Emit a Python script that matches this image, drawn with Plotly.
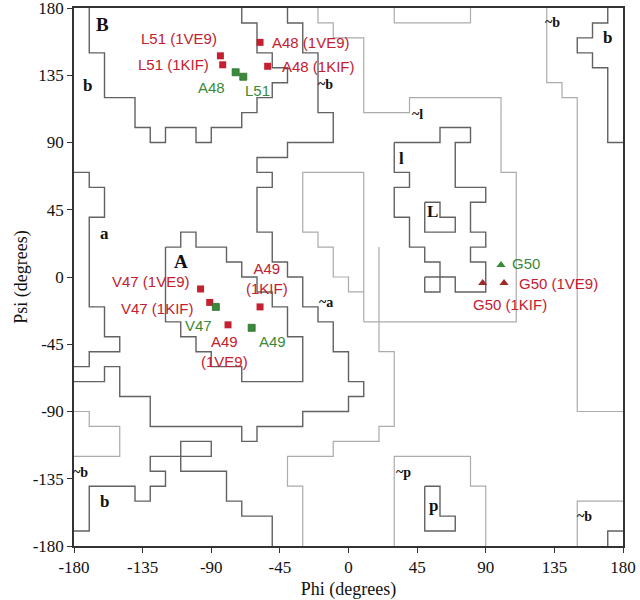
import plotly.graph_objects as go

# ---------------- data: residue (phi, psi) positions ----------------
red_names = ["A48 (1VE9)", "A48 (1KIF)", "L51 (1VE9)", "L51 (1KIF)",
             "V47 (1VE9)", "V47 (1KIF)", "A49<br>(1VE9)", "A49<br>(1KIF)"]
red_phi = [-58, -53, -84, -82.5, -97, -91, -79, -58]
red_psi = [157, 141, 148, 142, -8, -17, -32, -20]

green_names = ["A48", "L51", "V47", "A49"]
green_phi = [-74, -69, -87, -63.5]
green_psi = [137, 134, -20, -34]

gly_names = ["G50", "G50 (1VE9)", "G50 (1KIF)"]
gly_phi = [100, 102, 88]
gly_psi = [8, -4, -4]

# ---------------- data: region boundaries (phi, psi vertices) ----------------
core_B = [(-170, 180), (-170, 150), (-160, 150), (-160, 120), (-140, 120), (-140, 100),
          (-130, 100), (-130, 90), (-120, 90), (-120, 100), (-100, 100), (-100, 90),
          (-90, 90), (-90, 100), (-70, 100), (-70, 110), (-60, 110), (-60, 120),
          (-50, 120), (-50, 130), (-40, 130), (-40, 140), (-50, 140), (-50, 150),
          (-60, 150), (-60, 170), (-70, 170), (-70, 180)]
core_A = [(-120, 20), (-110, 20), (-110, 30), (-100, 30), (-100, 20), (-80, 20),
          (-80, 10), (-70, 10), (-70, 0), (-60, 0), (-60, -10), (-50, -10), (-50, -20),
          (-40, -20), (-40, -40), (-30, -40), (-30, -70), (-70, -70), (-70, -60),
          (-90, -60), (-90, -50), (-100, -50), (-100, -40), (-110, -40), (-110, -30),
          (-120, -30), (-120, 20)]
core_L = [(50, 50), (50, 30), (70, 30), (70, 40), (60, 40), (60, 50), (50, 50)]
allowed_left = [(-180, 70), (-170, 70), (-170, 60), (-160, 60), (-160, 40), (-170, 40),
                (-170, -20), (-160, -20), (-160, -40), (-150, -40), (-150, -50),
                (-170, -50), (-170, -60), (-180, -60)]
allowed_main = [(-180, -70), (-160, -70), (-160, -60), (-150, -60), (-150, -80),
                (-130, -80), (-130, -100), (-70, -100), (-70, -110), (-60, -110),
                (-60, -100), (-30, -100), (-30, -90), (0, -90), (0, -80), (10, -80),
                (10, -70), (0, -70), (0, -50), (-10, -50), (-10, -30), (-20, -30),
                (-20, -20), (-30, -20), (-30, 0), (-40, 0), (-40, 10), (-50, 10),
                (-50, 30), (-60, 30), (-60, 60), (-50, 60), (-50, 70), (-60, 70),
                (-60, 80), (-40, 80), (-40, 90), (-10, 90), (-10, 110), (-20, 110),
                (-20, 150), (-30, 150), (-30, 170), (-40, 170), (-40, 180)]
allowed_bottom = [(-180, -170), (-170, -170), (-170, -140), (-140, -140), (-140, -150),
                  (-130, -150), (-130, -140), (-120, -140), (-120, -130), (-130, -130),
                  (-130, -120), (-110, -120), (-110, -130), (-80, -130), (-80, -150),
                  (-70, -150), (-70, -160), (-50, -160), (-50, -180)]
allowed_box = [(-110, -120), (-110, -110), (-90, -110), (-90, -120), (-110, -120)]
allowed_l = [(30, 90), (60, 90), (60, 100), (80, 100), (80, 90), (70, 90), (70, 60),
             (90, 60), (90, 50), (80, 50), (80, 30), (90, 30), (90, 20), (80, 20),
             (80, 10), (90, 10), (90, -10), (70, -10), (70, 0), (60, 0), (60, 10),
             (50, 10), (50, 20), (40, 20), (40, 40), (30, 40), (30, 60), (40, 60),
             (40, 70), (30, 70), (30, 90)]
allowed_l_box = [(50, 0), (60, 0), (60, -10), (50, -10), (50, 0)]
allowed_p = [(50, -140), (60, -140), (60, -160), (70, -160), (70, -170), (50, -170), (50, -140)]
allowed_b_right = [(170, 180), (170, 170), (160, 170), (160, 160), (150, 160), (150, 150),
                   (160, 150), (160, 140), (170, 140), (170, 90), (180, 90)]
allowed_b_corner = [(170, -180), (170, -170), (180, -170)]

gen_top = [(-20, 180), (-20, 170), (-10, 170), (-10, 160), (10, 160), (10, 110),
           (40, 110), (40, 120), (100, 120), (100, 70), (110, 70), (110, -30), (10, -30)]
gen_pocket = [(10, -30), (10, 70), (-30, 70), (-30, 30), (-20, 30), (-20, 20), (-10, 20),
              (-10, 0), (0, 0), (0, -10), (10, -10)]
gen_a_right = [(20, 20), (20, -50), (30, -50), (30, -100), (20, -100), (20, -110),
               (-10, -110), (-10, -120), (-40, -120), (-40, -140), (-30, -140), (-30, -180)]
gen_p = [(30, -180), (30, -120), (80, -120), (80, -140), (90, -140), (90, -180)]
gen_p_top = [(30, 180), (30, 170), (80, 170), (80, 180)]
gen_b_right = [(130, 180), (130, 130), (140, 130), (140, 120), (150, 120), (150, -90), (180, -90)]
gen_b_corner = [(150, -180), (150, -150), (180, -150)]
gen_left = [(-180, -90), (-170, -90), (-170, -100), (-150, -100), (-150, -120), (-180, -120)]

dark_lines = [core_B, core_A, core_L, allowed_left, allowed_main, allowed_bottom,
              allowed_box, allowed_l, allowed_l_box, allowed_p, allowed_b_right,
              allowed_b_corner]
light_lines = [gen_top, gen_pocket, gen_a_right, gen_p, gen_p_top, gen_b_right,
               gen_b_corner, gen_left]

region_labels = ["B", "b", "a", "A", "~b", "~l", "l", "L", "~a", "~b", "b",
                 "~p", "p", "~b", "~b", "b"]
region_phi = [-161, -171, -160, -110, -15, 45, 35, 55, -15, 134, 170, 36, 56, 155, -176, -160]
region_psi = [169, 128, 29, 10.5, 129, 109, 79, 44, -17, 170, 160, -131, -153, -160, -131, -150]
region_big = ["B", "A"]

ticks = [-180, -135, -90, -45, 0, 45, 90, 135, 180]

# ---------------- figure ----------------
fig = go.Figure()

for poly in light_lines:
    fig.add_trace(go.Scatter(x=[p[0] for p in poly], y=[p[1] for p in poly], mode="lines",
                             line=dict(color="#ababab", width=1.2), hoverinfo="skip",
                             showlegend=False))
for poly in dark_lines:
    fig.add_trace(go.Scatter(x=[p[0] for p in poly], y=[p[1] for p in poly], mode="lines",
                             line=dict(color="#626262", width=1.4), hoverinfo="skip",
                             showlegend=False))

RED = "#c4202f"
GREEN = "#3b8a3b"
DKRED = "#9b2a2a"

fig.add_trace(go.Scatter(x=red_phi, y=red_psi, mode="markers", showlegend=False,
                         marker=dict(symbol="square", size=7, color=RED)))
fig.add_trace(go.Scatter(x=green_phi, y=green_psi, mode="markers", showlegend=False,
                         marker=dict(symbol="square", size=7, color=GREEN,
                                     line=dict(color="#2c6e2c", width=0.8))))
fig.add_trace(go.Scatter(x=gly_phi, y=gly_psi, mode="markers", showlegend=False,
                         marker=dict(symbol="triangle-up", size=8,
                                     color=[GREEN, DKRED, DKRED])))

# label offsets (pixels) relative to each marker
red_off = [("left", 10, 0), ("left", 12, 0), ("right", -1, 17), ("right", -12, 0),
           ("right", -9, 7), ("right", -14, -6), ("center", -4, -27), ("center", 7, 28)]
green_off = [("right", -9, -15), ("left", 0, -14), ("right", -2, -19), ("left", 5, -14)]
gly_off = [("left", 9, 2), ("left", 13, -1), ("center", 27, -22)]
gly_colors = [GREEN, RED, RED]

def add_labels(names, xs, ys, offs, colors):
    for n, x, y, (anc, dx, dy), c in zip(names, xs, ys, offs, colors):
        fig.add_annotation(x=x, y=y, text=n, showarrow=False, xanchor=anc, yanchor="middle",
                           xshift=dx, yshift=dy,
                           font=dict(family="Liberation Sans, Arial", size=15, color=c))

add_labels(red_names, red_phi, red_psi, red_off, [RED] * len(red_names))
add_labels(green_names, green_phi, green_psi, green_off, [GREEN] * len(green_names))
add_labels(gly_names, gly_phi, gly_psi, gly_off, gly_colors)

for t, x, y in zip(region_labels, region_phi, region_psi):
    size = 19 if t in region_big else (14 if t.startswith("~") else 17)
    fig.add_annotation(x=x, y=y, text="<b>%s</b>" % t, showarrow=False,
                       font=dict(family="Liberation Serif, Times New Roman", size=size,
                                 color="#111111"))

axis_common = dict(range=[-180, 180], tickvals=ticks, ticktext=[str(t) for t in ticks],
                   showgrid=False, zeroline=False, showline=True, mirror=True,
                   linecolor="#333333", linewidth=1.5, ticks="outside", ticklen=5,
                   tickcolor="#333333", automargin=False, ticklabeloverflow="allow",
                   tickfont=dict(family="Liberation Serif, Times New Roman", size=17,
                                 color="#111111"))

fig.update_layout(
    width=640, height=600,
    margin=dict(l=74, r=17, t=8, b=54),
    paper_bgcolor="white", plot_bgcolor="white",
    xaxis=dict(**axis_common,
               title=dict(text="Phi (degrees)", standoff=6,
                          font=dict(family="Liberation Serif, Times New Roman", size=18,
                                    color="#111111"))),
    yaxis=dict(**axis_common,
               title=dict(text="Psi (degrees)", standoff=0,
                          font=dict(family="Liberation Serif, Times New Roman", size=18,
                                    color="#111111"))),
)

fig.write_html("out.html", config={"displayModeBar": False},
               post_script="document.body.style.margin='0';")
